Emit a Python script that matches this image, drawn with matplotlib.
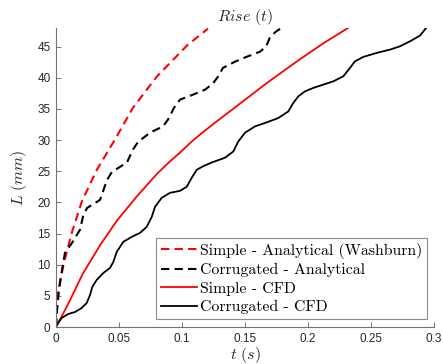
import matplotlib
matplotlib.use("Agg")
import matplotlib.pyplot as plt

plt.rcParams['mathtext.fontset'] = 'cm'
plt.rcParams['font.family'] = ['Liberation Sans', 'DejaVu Sans']

# Simple - Analytical (Washburn)
t_simple_an = [0, 0.0015, 0.0063, 0.0125, 0.0204, 0.0323, 0.0468, 0.0611, 0.080, 0.104, 0.1206]
L_simple_an = [0, 5.5, 10.3, 15.1, 20.1, 25.2, 30.1, 35.2, 40.2, 45.2, 47.9]

# Corrugated - Analytical
t_corr_an = [0, 0.0008, 0.0024, 0.0048, 0.0071, 0.0127, 0.0190, 0.0214, 0.0246, 0.0349,
             0.0405, 0.0444, 0.0563, 0.0611, 0.0651, 0.0746, 0.0849, 0.0889, 0.0937, 0.0984,
             0.1087, 0.1183, 0.1246, 0.1286, 0.1325, 0.1421, 0.1516, 0.1619, 0.1667, 0.1698,
             0.1738, 0.1794]
L_corr_an = [0, 2.7, 6.0, 9.2, 11.9, 13.5, 15.6, 17.7, 19.1, 20.4,
             23.6, 24.9, 26.4, 28.5, 29.7, 31.2, 32.2, 33.3, 35.2, 36.5,
             37.3, 38.1, 39.1, 40.2, 41.6, 42.6, 43.4, 44.2, 45.0, 46.5,
             47.3, 48.1]

# Simple - CFD
t_simple_cfd = [0, 0.0056, 0.0111, 0.0214, 0.0349, 0.0484, 0.0643, 0.0802, 0.0905, 0.0984,
                0.1079, 0.1143, 0.1262, 0.1405, 0.1675, 0.1937, 0.2119, 0.2317]
L_simple_cfd = [0, 2.1, 4.3, 8.6, 13.1, 17.1, 21.0, 24.6, 26.6, 28.0,
                29.8, 30.9, 32.8, 35.0, 39.2, 43.0, 45.5, 48.0]

# Corrugated - CFD
t_corr_cfd = [0, 0.0006, 0.0045, 0.0098, 0.0151, 0.0204, 0.0244, 0.0270, 0.0288, 0.0323,
              0.0376, 0.0429, 0.0455, 0.0482, 0.0534, 0.0601, 0.0667, 0.0720, 0.0760, 0.0786,
              0.0839, 0.0905, 0.0984, 0.1037, 0.1077, 0.1117, 0.1167, 0.1236, 0.1341, 0.1407,
              0.1447, 0.1500, 0.1579, 0.1672, 0.1764, 0.1844, 0.1883, 0.1923, 0.1976, 0.2042,
              0.2121, 0.2201, 0.2280, 0.2333, 0.2373, 0.2439, 0.2545, 0.2651, 0.2730, 0.2810,
              0.2889, 0.2942]
L_corr_cfd = [0, 0.32, 1.45, 2.09, 2.41, 3.05, 3.86, 5.14, 6.43, 7.56,
              8.68, 9.49, 10.45, 12.06, 13.67, 14.47, 15.11, 16.08, 17.68, 19.29,
              20.74, 21.54, 21.86, 22.51, 23.95, 25.24, 25.80, 26.41, 27.17, 28.18,
              29.79, 31.19, 32.20, 32.85, 33.55, 34.61, 35.96, 37.03, 37.83, 38.38,
              38.91, 39.44, 40.24, 41.59, 42.65, 43.36, 44.00, 44.53, 45.06, 45.87,
              46.78, 48.12]

xticks = [0, 0.05, 0.1, 0.15, 0.2, 0.25, 0.3]
xticklabels = ["0", "0.05", "0.1", "0.15", "0.2", "0.25", "0.3"]
yticks = [0, 5, 10, 15, 20, 25, 30, 35, 40, 45]

fig = plt.figure(figsize=(4.43, 3.64), dpi=100)
ax = fig.add_axes([56 / 443, 37 / 364, 378 / 443, 299 / 364])

ax.plot(t_simple_an, L_simple_an, 'r--', lw=1.5, dashes=(4, 2.5), label="Simple - Analytical (Washburn)")
ax.plot(t_corr_an, L_corr_an, 'k--', lw=1.5, dashes=(4, 2.5), label="Corrugated - Analytical")
ax.plot(t_simple_cfd, L_simple_cfd, 'r-', lw=1.3, label="Simple - CFD")
ax.plot(t_corr_cfd, L_corr_cfd, 'k-', lw=1.3, label="Corrugated - CFD")

ax.set_xlim(0, 0.3)
ax.set_ylim(0, 48)
ax.set_xticks(xticks)
ax.set_xticklabels(xticklabels)
ax.set_yticks(yticks)
ax.tick_params(direction='in', length=3.5, width=0.7, colors='0.45', labelcolor='0.15',
               labelsize=8.5, pad=4)
for s in ['top', 'right']:
    ax.spines[s].set_visible(False)
for s in ['left', 'bottom']:
    ax.spines[s].set_color('0.45')
    ax.spines[s].set_linewidth(0.8)

ax.set_title(r"$Rise\ (t)$", fontsize=11.5, color='0.15', pad=5)
ax.set_xlabel(r"$t\ (s)$", fontsize=11.5, color='0.15', labelpad=0)
ax.set_ylabel(r"$L\ (mm)$", fontsize=11.5, color='0.15', labelpad=6)

leg = ax.legend(loc='lower right', bbox_to_anchor=(0.981, 0.027), borderaxespad=0,
                prop={'family': 'cmr10', 'size': 11.4}, fancybox=False, framealpha=1,
                edgecolor='0.55', handlelength=2.3, handletextpad=0.15, labelspacing=0.27,
                borderpad=0.3)
leg.get_frame().set_linewidth(0.8)

fig.savefig("out.png", dpi=100)
